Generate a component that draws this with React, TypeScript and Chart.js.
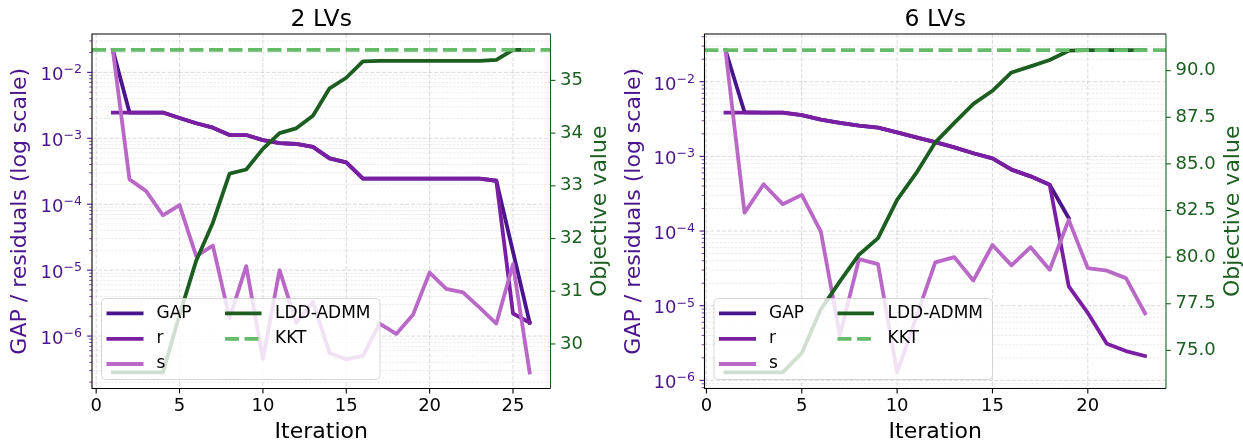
import React, { useEffect, useRef } from "react";
import { Chart, registerables } from "chart.js";

Chart.register(...registerables);

const FONT = '"DejaVu Sans", "Noto Sans", sans-serif';
const H = 440;

const C_GAP = "#4a148c";
const C_R = "#7b1fa2";
const C_S = "#ba68c8";
const C_LDD = "#1b5e20";
const C_KKT = "#66bb6a";
const C_LEFT_AXIS = "#4a148c";
const C_RIGHT_AXIS = "#1b5e20";

// ---------------- 2 LVs ----------------
const ITER_2LV = [1, 2, 3, 4, 5, 6, 7, 8, 9, 10, 11, 12, 13, 14, 15, 16, 17, 18, 19, 20, 21, 22, 23, 24, 25, 26];
const GAP_2LV = [0.0218, 2.46e-3, 2.46e-3, 2.46e-3, 2.03e-3, 1.69e-3, 1.45e-3, 1.12e-3, 1.12e-3, 9.4e-4, 8.45e-4, 8.2e-4, 7.4e-4, 4.95e-4, 4.3e-4, 2.45e-4, 2.45e-4, 2.45e-4, 2.45e-4, 2.45e-4, 2.45e-4, 2.45e-4, 2.45e-4, 2.27e-4, 1.9e-5, 1.6e-6];
const R_2LV = [2.46e-3, 2.46e-3, 2.46e-3, 2.46e-3, 2.03e-3, 1.69e-3, 1.45e-3, 1.12e-3, 1.12e-3, 9.4e-4, 8.45e-4, 8.2e-4, 7.4e-4, 4.95e-4, 4.3e-4, 2.45e-4, 2.45e-4, 2.45e-4, 2.45e-4, 2.45e-4, 2.45e-4, 2.45e-4, 2.45e-4, 2.27e-4, 2.2e-6, 1.6e-6];
const S_2LV = [0.0218, 2.38e-4, 1.58e-4, 6.8e-5, 9.7e-5, 1.63e-5, 2.35e-5, 1.87e-6, 1.15e-5, 4.5e-7, 1.0e-5, 1.6e-6, 3.3e-6, 5.5e-7, 4.45e-7, 5.0e-7, 1.55e-6, 1.08e-6, 2.1e-6, 9.2e-6, 5.2e-6, 4.6e-6, 2.7e-6, 1.55e-6, 1.23e-5, 2.8e-7];
const OBJ_2LV = [29.46, 29.46, 29.46, 29.46, 30.55, 31.58, 32.3, 33.23, 33.31, 33.7, 34.0, 34.09, 34.33, 34.85, 35.05, 35.36, 35.37, 35.37, 35.37, 35.37, 35.37, 35.37, 35.37, 35.39, 35.58, 35.58];
const KKT_2LV = 35.58;
const X_TICKS_2LV = [0, 5, 10, 15, 20, 25];
const OBJ_TICKS_2LV = [30, 31, 32, 33, 34, 35];
const X_RANGE_2LV = [-0.25, 27.25];
const LOG_RANGE_2LV = [-6.795, -1.418];
const OBJ_RANGE_2LV = [29.155, 35.88];

// ---------------- 6 LVs ----------------
const ITER_6LV = [1, 2, 3, 4, 5, 6, 7, 8, 9, 10, 11, 12, 13, 14, 15, 16, 17, 18, 19, 20, 21, 22, 23];
const GAP_6LV = [0.0265, 3.9e-3, 3.86e-3, 3.86e-3, 3.57e-3, 3.1e-3, 2.8e-3, 2.58e-3, 2.43e-3, 2.1e-3, 1.8e-3, 1.55e-3, 1.32e-3, 1.1e-3, 9.4e-4, 6.65e-4, 5.4e-4, 4.17e-4, 1.49e-4, null, null, null, null];
const R_6LV = [3.86e-3, 3.86e-3, 3.86e-3, 3.86e-3, 3.57e-3, 3.1e-3, 2.8e-3, 2.58e-3, 2.43e-3, 2.1e-3, 1.8e-3, 1.55e-3, 1.32e-3, 1.1e-3, 9.4e-4, 6.65e-4, 5.4e-4, 4.17e-4, 1.81e-5, 8.0e-6, 3.1e-6, 2.47e-6, 2.12e-6];
const S_6LV = [0.0265, 1.76e-4, 4.24e-4, 2.29e-4, 3.05e-4, 9.8e-5, 4.0e-6, 4.2e-5, 3.6e-5, 1.28e-6, 7e-6, 3.8e-5, 4.47e-5, 2.18e-5, 6.5e-5, 3.47e-5, 6.08e-5, 3.03e-5, 1.41e-4, 3.19e-5, 2.94e-5, 2.34e-5, 7.9e-6];
const OBJ_6LV = [73.82, 73.82, 73.82, 73.82, 74.86, 77.2, 78.7, 80.13, 81.02, 83.07, 84.5, 86.15, 87.2, 88.22, 88.92, 89.9, 90.23, 90.57, 91.07, 91.1, 91.1, 91.1, 91.1];
const KKT_6LV = 91.1;
const X_TICKS_6LV = [0, 5, 10, 15, 20];
const OBJ_TICKS_6LV = [75, 77.5, 80, 82.5, 85, 87.5, 90];
const X_RANGE_6LV = [-0.1, 24.1];
const LOG_RANGE_6LV = [-6.109, -1.361];
const OBJ_RANGE_6LV = [72.956, 91.964];

const LEGEND_ITEMS = [
  { label: "GAP", color: C_GAP, dash: [] as number[], col: 0, row: 0 },
  { label: "r", color: C_R, dash: [] as number[], col: 0, row: 1 },
  { label: "s", color: C_S, dash: [] as number[], col: 0, row: 2 },
  { label: "LDD-ADMM", color: C_LDD, dash: [] as number[], col: 1, row: 0 },
  { label: "KKT", color: C_KKT, dash: [14, 5.5], col: 1, row: 1 },
];

type PanelSpec = {
  title: string;
  iter: number[];
  gap: (number | null)[];
  r: number[];
  s: number[];
  obj: number[];
  kkt: number;
  xTicks: number[];
  objTicks: number[];
  xRange: number[];
  logRange: number[];
  objRange: number[];
  objDecimals: number;
};

type FrameSpec = {
  width: number;
  left: number;
  caLeft: number;
  caRight: number;
  caTop: number;
  caBottom: number;
  leftLabelX: number;
  rightLabelX: number;
  logLabelGap: number;
};

const PANEL_2LV: PanelSpec = {
  title: "2 LVs", iter: ITER_2LV, gap: GAP_2LV, r: R_2LV, s: S_2LV, obj: OBJ_2LV, kkt: KKT_2LV,
  xTicks: X_TICKS_2LV, objTicks: OBJ_TICKS_2LV, xRange: X_RANGE_2LV, logRange: LOG_RANGE_2LV,
  objRange: OBJ_RANGE_2LV, objDecimals: 0,
};
const PANEL_6LV: PanelSpec = {
  title: "6 LVs", iter: ITER_6LV, gap: GAP_6LV, r: R_6LV, s: S_6LV, obj: OBJ_6LV, kkt: KKT_6LV,
  xTicks: X_TICKS_6LV, objTicks: OBJ_TICKS_6LV, xRange: X_RANGE_6LV, logRange: LOG_RANGE_6LV,
  objRange: OBJ_RANGE_6LV, objDecimals: 1,
};

const FRAME_2LV: FrameSpec = { width: 621, left: 0, caLeft: 92, caRight: 550.5, caTop: 34, caBottom: 388.5, leftLabelX: 26, rightLabelX: 606, logLabelGap: 10 };
const FRAME_6LV: FrameSpec = { width: 622, left: 621, caLeft: 83.5, caRight: 545, caTop: 34, caBottom: 388.5, leftLabelX: 18.5, rightLabelX: 618, logLabelGap: 9.5 };

function isPow10(v: number) {
  const e = Math.log10(v);
  return Math.abs(e - Math.round(e)) < 1e-9;
}

function logTicks(min: number, max: number) {
  const out: { value: number; major: boolean }[] = [];
  for (let e = Math.floor(Math.log10(min)); e <= Math.ceil(Math.log10(max)); e++) {
    for (let m = 1; m <= 9; m++) {
      const v = m * Math.pow(10, e);
      if (v >= min * 0.99999 && v <= max * 1.00001) out.push({ value: v, major: m === 1 });
    }
  }
  return out;
}

function pts(xs: number[], ys: (number | null)[]) {
  return xs.map((x, i) => ({ x, y: ys[i] }));
}

function makePlugin(p: PanelSpec, f: FrameSpec) {
  return {
    id: "panelDecor",
    beforeDatasetsDraw(chart: any) {
      const { ctx, chartArea: ca } = chart;
      const xs = chart.scales.x;
      const yl = chart.scales.yLog;
      ctx.save();
      ctx.beginPath();
      ctx.rect(ca.left, ca.top, ca.right - ca.left, ca.bottom - ca.top);
      ctx.clip();
      for (const t of yl.ticks) {
        const major = isPow10(t.value);
        const y = yl.getPixelForValue(t.value);
        ctx.strokeStyle = major ? "rgba(0,0,0,0.15)" : "rgba(0,0,0,0.10)";
        ctx.lineWidth = major ? 1 : 0.8;
        ctx.setLineDash(major ? [4, 1.8] : [2.6, 1.2]);
        ctx.beginPath();
        ctx.moveTo(ca.left, y);
        ctx.lineTo(ca.right, y);
        ctx.stroke();
      }
      for (const t of xs.ticks) {
        const x = xs.getPixelForValue(t.value);
        ctx.strokeStyle = "rgba(0,0,0,0.15)";
        ctx.lineWidth = 1;
        ctx.setLineDash([4, 1.8]);
        ctx.beginPath();
        ctx.moveTo(x, ca.top);
        ctx.lineTo(x, ca.bottom);
        ctx.stroke();
      }
      ctx.restore();
    },
    afterDatasetsDraw(chart: any) {
      const { ctx, chartArea: ca } = chart;
      const xs = chart.scales.x;
      const yl = chart.scales.yLog;
      const yo = chart.scales.yObj;
      ctx.save();
      ctx.setLineDash([]);
      // frame
      ctx.lineWidth = 1.1;
      ctx.strokeStyle = "#000";
      ctx.beginPath();
      ctx.moveTo(ca.right, ca.top);
      ctx.lineTo(ca.left, ca.top);
      ctx.lineTo(ca.left, ca.bottom);
      ctx.lineTo(ca.right, ca.bottom);
      ctx.stroke();
      ctx.strokeStyle = C_RIGHT_AXIS;
      ctx.beginPath();
      ctx.moveTo(ca.right, ca.top);
      ctx.lineTo(ca.right, ca.bottom);
      ctx.stroke();
      // x tick marks
      ctx.strokeStyle = "#000";
      for (const t of xs.ticks) {
        const x = xs.getPixelForValue(t.value);
        ctx.beginPath();
        ctx.moveTo(x, ca.bottom);
        ctx.lineTo(x, ca.bottom + 4.9);
        ctx.stroke();
      }
      // log tick marks and labels
      ctx.strokeStyle = C_LEFT_AXIS;
      for (const t of yl.ticks) {
        const major = isPow10(t.value);
        const y = yl.getPixelForValue(t.value);
        ctx.lineWidth = major ? 1.1 : 0.8;
        ctx.beginPath();
        ctx.moveTo(ca.left, y);
        ctx.lineTo(ca.left - (major ? 4.9 : 2.8), y);
        ctx.stroke();
        if (major) {
          const e = Math.round(Math.log10(t.value));
          const base = "10";
          const sup = (e < 0 ? "\u2212" : "") + Math.abs(e);
          ctx.font = `18px ${FONT}`;
          const wb = ctx.measureText(base).width;
          ctx.font = `12.6px ${FONT}`;
          const ws = ctx.measureText(sup).width;
          const x0 = ca.left - f.logLabelGap - wb - ws;
          ctx.fillStyle = C_LEFT_AXIS;
          ctx.textAlign = "left";
          ctx.textBaseline = "alphabetic";
          ctx.font = `18px ${FONT}`;
          ctx.fillText(base, x0, y + 7.8);
          ctx.font = `12.6px ${FONT}`;
          ctx.fillText(sup, x0 + wb, y + 1);
        }
      }
      // right tick marks
      ctx.strokeStyle = C_RIGHT_AXIS;
      ctx.lineWidth = 1.1;
      for (const t of yo.ticks) {
        const y = yo.getPixelForValue(t.value);
        ctx.beginPath();
        ctx.moveTo(ca.right, y);
        ctx.lineTo(ca.right + 4.9, y);
        ctx.stroke();
      }
      ctx.restore();
    },
    afterDraw(chart: any) {
      const { ctx, chartArea: ca } = chart;
      ctx.save();
      // legend
      const bx = ca.left + 9.5;
      const bw = 278.5;
      const bh = 81;
      const by = ca.bottom - 9 - bh;
      const rad = 4;
      ctx.beginPath();
      ctx.moveTo(bx + rad, by);
      ctx.lineTo(bx + bw - rad, by);
      ctx.arcTo(bx + bw, by, bx + bw, by + rad, rad);
      ctx.lineTo(bx + bw, by + bh - rad);
      ctx.arcTo(bx + bw, by + bh, bx + bw - rad, by + bh, rad);
      ctx.lineTo(bx + rad, by + bh);
      ctx.arcTo(bx, by + bh, bx, by + bh - rad, rad);
      ctx.lineTo(bx, by + rad);
      ctx.arcTo(bx, by, bx + rad, by, rad);
      ctx.closePath();
      ctx.fillStyle = "rgba(255,255,255,0.8)";
      ctx.fill();
      ctx.lineWidth = 1;
      ctx.strokeStyle = "rgba(204,204,204,0.8)";
      ctx.stroke();
      const rowY = [ca.bottom - 75.2, ca.bottom - 49.7, ca.bottom - 24.5];
      const handleX = [[ca.left + 14.5, ca.left + 51.5], [ca.left + 133, ca.left + 169.5]];
      const textX = [ca.left + 64.5, ca.left + 183];
      ctx.font = `17px ${FONT}`;
      ctx.textBaseline = "middle";
      ctx.textAlign = "left";
      for (const it of LEGEND_ITEMS) {
        const y = rowY[it.row];
        ctx.strokeStyle = it.color;
        ctx.lineWidth = 3.8;
        ctx.setLineDash(it.dash);
        ctx.lineCap = "butt";
        ctx.beginPath();
        ctx.moveTo(handleX[it.col][0], y);
        ctx.lineTo(handleX[it.col][1], y);
        ctx.stroke();
        ctx.setLineDash([]);
        ctx.fillStyle = "#000";
        ctx.fillText(it.label, textX[it.col], y);
      }
      // title
      const cx = (ca.left + ca.right) / 2;
      const cy = (ca.top + ca.bottom) / 2;
      ctx.fillStyle = "#000";
      ctx.textAlign = "center";
      ctx.textBaseline = "alphabetic";
      ctx.font = `23.5px ${FONT}`;
      ctx.fillText(p.title, cx, 26);
      ctx.font = `22px ${FONT}`;
      ctx.fillText("Iteration", cx, 438);
      // y labels
      ctx.fillStyle = C_LEFT_AXIS;
      ctx.save();
      ctx.translate(f.leftLabelX, cy);
      ctx.rotate(-Math.PI / 2);
      ctx.fillText("GAP / residuals (log scale)", 0, 0);
      ctx.restore();
      ctx.fillStyle = C_RIGHT_AXIS;
      ctx.save();
      ctx.translate(f.rightLabelX, cy);
      ctx.rotate(-Math.PI / 2);
      ctx.fillText("Objective value", 0, 0);
      ctx.restore();
      ctx.restore();
    },
  };
}

function buildConfig(p: PanelSpec, f: FrameSpec): any {
  const lineBase = {
    pointRadius: 0,
    borderWidth: 3.8,
    borderJoinStyle: "round",
    borderCapStyle: "square",
    tension: 0,
    spanGaps: false,
    fill: false,
  };
  const logMin = Math.pow(10, p.logRange[0]);
  const logMax = Math.pow(10, p.logRange[1]);
  return {
    type: "line",
    data: {
      datasets: [
        { ...lineBase, label: "GAP", data: pts(p.iter, p.gap), borderColor: C_GAP, yAxisID: "yLog", order: 5 },
        { ...lineBase, label: "r", data: pts(p.iter, p.r), borderColor: C_R, yAxisID: "yLog", order: 4 },
        { ...lineBase, label: "s", data: pts(p.iter, p.s), borderColor: C_S, yAxisID: "yLog", order: 3 },
        { ...lineBase, label: "LDD-ADMM", data: pts(p.iter, p.obj), borderColor: C_LDD, yAxisID: "yObj", order: 2 },
        {
          ...lineBase, label: "KKT",
          data: [{ x: p.xRange[0], y: p.kkt }, { x: p.xRange[1], y: p.kkt }],
          borderColor: C_KKT, borderDash: [14, 5.5], borderCapStyle: "butt", yAxisID: "yObj", order: 1,
        },
      ],
    },
    options: {
      animation: false,
      responsive: false,
      maintainAspectRatio: false,
      devicePixelRatio: 1,
      events: [],
      layout: { padding: { top: f.caTop, left: 0, right: 0, bottom: 0 } },
      plugins: { legend: { display: false }, title: { display: false }, tooltip: { enabled: false } },
      scales: {
        x: {
          type: "linear",
          position: "bottom",
          min: p.xRange[0],
          max: p.xRange[1],
          grid: { display: false, drawTicks: false },
          border: { display: false },
          ticks: {
            color: "#000",
            font: { family: FONT, size: 18, lineHeight: 1.2 },
            padding: 7.4,
            autoSkip: false,
            maxRotation: 0,
            callback: (v: number) => String(v),
          },
          afterBuildTicks: (s: any) => { s.ticks = p.xTicks.map((v) => ({ value: v })); },
          afterFit: (s: any) => { s.height = H - f.caBottom; },
        },
        yLog: {
          type: "logarithmic",
          position: "left",
          min: logMin,
          max: logMax,
          grid: { display: false, drawTicks: false },
          border: { display: false },
          ticks: { display: false, autoSkip: false },
          afterBuildTicks: (s: any) => { s.ticks = logTicks(logMin, logMax); },
          afterFit: (s: any) => { s.width = f.caLeft; },
        },
        yObj: {
          type: "linear",
          position: "right",
          min: p.objRange[0],
          max: p.objRange[1],
          grid: { display: false, drawTicks: false },
          border: { display: false },
          ticks: {
            color: C_RIGHT_AXIS,
            font: { family: FONT, size: 18, lineHeight: 1.2 },
            padding: 9.5,
            autoSkip: false,
            callback: (v: number) => v.toFixed(p.objDecimals),
          },
          afterBuildTicks: (s: any) => { s.ticks = p.objTicks.map((v) => ({ value: v })); },
          afterFit: (s: any) => { s.width = f.width - f.caRight; },
        },
      },
    },
    plugins: [makePlugin(p, f)],
  };
}

function PanelChart({ panel, frame }: { panel: PanelSpec; frame: FrameSpec }) {
  const ref = useRef<HTMLCanvasElement>(null);
  useEffect(() => {
    if (!ref.current) return;
    const chart = new Chart(ref.current, buildConfig(panel, frame));
    return () => chart.destroy();
  }, [panel, frame]);
  return (
    <canvas
      ref={ref}
      width={frame.width}
      height={H}
      style={{ position: "absolute", left: frame.left, top: 0, width: frame.width, height: H, display: "block" }}
    />
  );
}

export default function App() {
  return (
    <div style={{ position: "fixed", left: 0, top: 0, width: 1243, height: H, background: "#fff", overflow: "hidden" }}>
      <PanelChart panel={PANEL_2LV} frame={FRAME_2LV} />
      <PanelChart panel={PANEL_6LV} frame={FRAME_6LV} />
    </div>
  );
}
